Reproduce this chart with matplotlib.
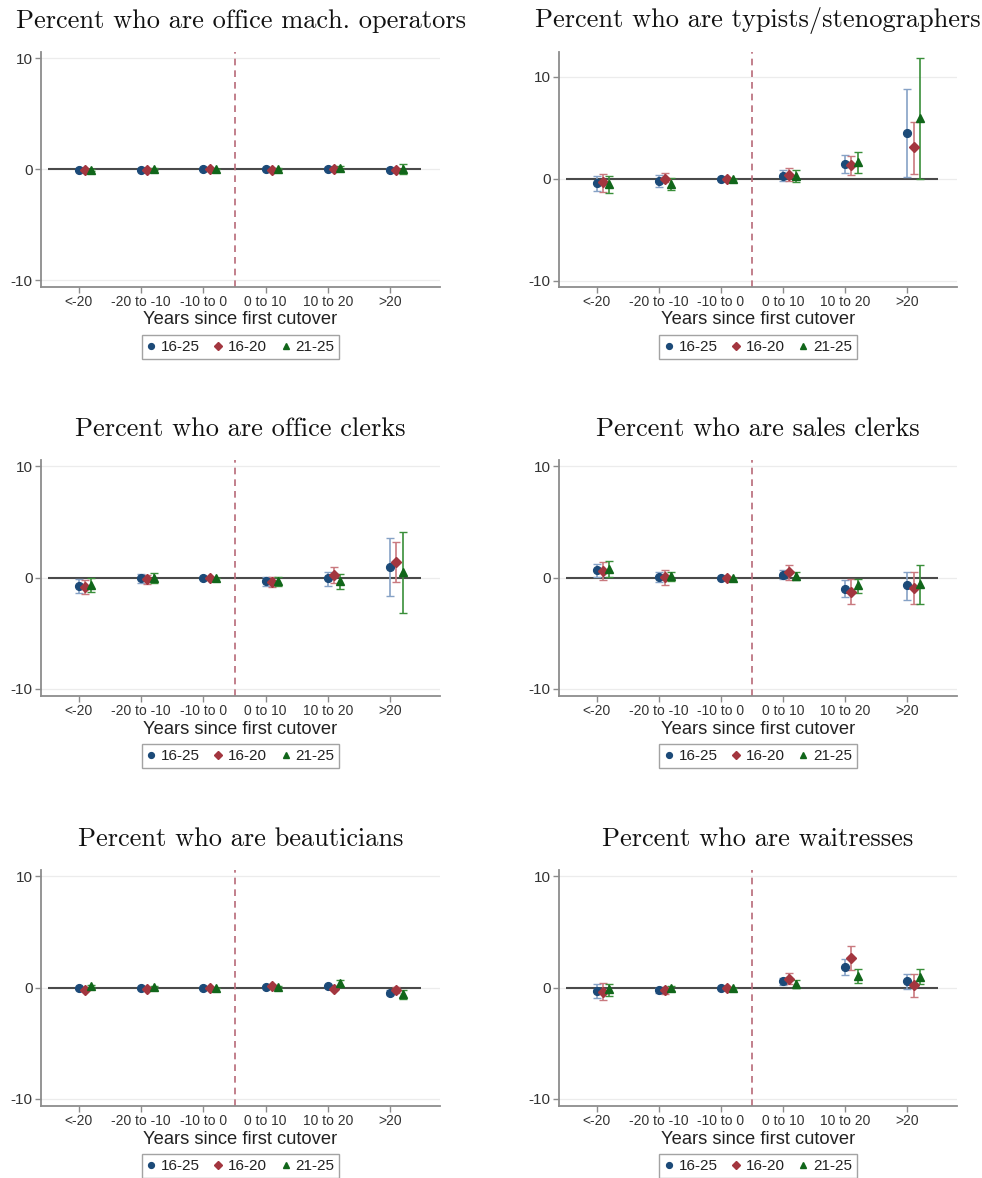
import matplotlib
matplotlib.use("Agg")
import matplotlib.pyplot as plt
from matplotlib.lines import Line2D
import numpy as np

# ---------------------------------------------------------------------------
# Event-study estimates by age group (percentage points) with 95% CIs.
# Each list holds one value per period bin; rows are 16-25, 16-20, 21-25.
# ---------------------------------------------------------------------------
periods = ["<-20", "-20 to -10", "-10 to 0", "0 to 10", "10 to 20", ">20"]
groups = ["16-25", "16-20", "21-25"]

titles = [
    "Percent who are office mach. operators",
    "Percent who are typists/stenographers",
    "Percent who are office clerks",
    "Percent who are sales clerks",
    "Percent who are beauticians",
    "Percent who are waitresses",
]

machops_est = [[-0.05, -0.03, 0.0, 0.0, 0.06, -0.03],
               [-0.08, -0.06, 0.0, -0.05, 0.03, -0.09],
               [-0.04, 0.02, 0.0, 0.04, 0.15, 0.06]]
machops_lo = [[-0.15, -0.12, 0.0, -0.1, -0.04, -0.15],
              [-0.18, -0.15, 0.0, -0.15, -0.07, -0.2],
              [-0.14, -0.08, 0.0, -0.06, 0.02, -0.45]]
machops_hi = [[0.05, 0.06, 0.0, 0.1, 0.16, 0.09],
              [0.02, 0.03, 0.0, 0.05, 0.13, 0.02],
              [0.06, 0.12, 0.0, 0.14, 0.28, 0.5]]

typists_est = [[-0.42, -0.23, 0.0, 0.23, 1.47, 4.48],
               [-0.33, -0.05, 0.0, 0.33, 1.31, 3.07],
               [-0.5, -0.5, 0.0, 0.23, 1.63, 5.95]]
typists_lo = [[-1.2, -0.8, 0.0, -0.26, 0.56, 0.16],
              [-1.3, -0.33, 0.0, -0.26, 0.33, 0.5],
              [-1.4, -1.08, 0.0, -0.33, 0.56, 0.0]]
typists_hi = [[0.26, 0.33, 0.0, 0.82, 2.29, 8.76],
              [0.5, 0.55, 0.0, 1.05, 2.19, 5.56],
              [0.26, 0.07, 0.0, 0.88, 2.6, 11.86]]

clerks_est = [[-0.75, -0.06, 0.0, -0.3, -0.06, 0.93],
              [-0.81, -0.15, 0.0, -0.36, 0.24, 1.44],
              [-0.66, 0.0, 0.0, -0.3, -0.3, 0.54]]
clerks_lo = [[-1.35, -0.45, 0.0, -0.72, -0.72, -1.65],
             [-1.5, -0.57, 0.0, -0.81, -0.51, -0.36],
             [-1.32, -0.51, 0.0, -0.72, -1.05, -3.15]]
clerks_hi = [[-0.15, 0.33, 0.0, 0.09, 0.54, 3.6],
             [-0.21, 0.24, 0.0, 0.09, 0.99, 3.24],
             [-0.06, 0.45, 0.0, 0.09, 0.33, 4.14]]

sales_est = [[0.66, 0.06, 0.0, 0.27, -0.99, -0.69],
             [0.57, 0.06, 0.0, 0.48, -1.29, -0.9],
             [0.81, 0.12, 0.0, 0.15, -0.69, -0.54]]
sales_lo = [[0.06, -0.39, 0.0, -0.09, -1.74, -2.04],
            [-0.24, -0.63, 0.0, -0.24, -2.4, -2.34],
            [0.06, -0.3, 0.0, -0.24, -1.38, -2.34]]
sales_hi = [[1.26, 0.51, 0.0, 0.66, -0.24, 0.51],
            [1.41, 0.66, 0.0, 1.11, -0.09, 0.51],
            [1.47, 0.51, 0.0, 0.51, -0.09, 1.11]]

beaut_est = [[0.0, -0.06, 0.0, 0.06, 0.18, -0.45],
             [-0.2, -0.1, 0.0, 0.15, -0.12, -0.24],
             [0.15, 0.03, 0.0, 0.06, 0.39, -0.6]]
beaut_lo = [[-0.1, -0.14, 0.0, -0.02, 0.08, -0.7],
            [-0.3, -0.2, 0.0, 0.05, -0.22, -0.5],
            [0.05, -0.05, 0.0, -0.02, 0.03, -1.0]]
beaut_hi = [[0.1, 0.02, 0.0, 0.14, 0.28, -0.2],
            [-0.1, 0.0, 0.0, 0.25, -0.02, 0.05],
            [0.25, 0.11, 0.0, 0.14, 0.69, -0.2]]

waitr_est = [[-0.3, -0.21, 0.0, 0.6, 1.86, 0.6],
             [-0.39, -0.24, 0.0, 0.81, 2.64, 0.21],
             [-0.15, -0.06, 0.0, 0.3, 1.05, 0.96]]
waitr_lo = [[-0.9, -0.45, 0.0, 0.24, 1.11, -0.15],
            [-1.14, -0.6, 0.0, 0.3, 1.56, -0.81],
            [-0.75, -0.3, 0.0, 0.0, 0.45, 0.3]]
waitr_hi = [[0.3, 0.0, 0.0, 0.9, 2.55, 1.2],
            [0.39, 0.06, 0.0, 1.35, 3.75, 1.2],
            [0.36, 0.15, 0.0, 0.66, 1.65, 1.65]]

panels = [
    (machops_est, machops_lo, machops_hi),
    (typists_est, typists_lo, typists_hi),
    (clerks_est, clerks_lo, clerks_hi),
    (sales_est, sales_lo, sales_hi),
    (beaut_est, beaut_lo, beaut_hi),
    (waitr_est, waitr_lo, waitr_hi),
]

# ---------------------------------------------------------------------------
# Styling
# ---------------------------------------------------------------------------
W, H = 982, 1178
SANS = ["Liberation Sans", "DejaVu Sans"]
SERIF = ["cmr10", "DejaVu Serif"]
plt.rcParams["axes.formatter.use_mathtext"] = True

marker_colors = ["#1c4a78", "#a3363f", "#11661a"]
ci_colors = ["#86a2c6", "#c9797f", "#3a8f3a"]
markers = ["o", "D", "^"]
msizes = [5.6, 5.0, 5.8]
offsets = [0.0, 0.1, 0.2]

col_x = [(41, 440), (559, 957)]
row_y = [(52, 287), (460, 696), (870, 1106)]


def fx(px):
    return px / W


def fy(py):
    return 1 - py / H


fig = plt.figure(figsize=(W / 100, H / 100), dpi=100)
fig.patch.set_facecolor("white")

x = np.arange(len(periods))

for i, (est, lo, hi) in enumerate(panels):
    r, c = divmod(i, 2)
    x0, x1 = col_x[c]
    t, b = row_y[r]
    ax = fig.add_axes([fx(x0), fy(b), fx(x1 - x0), (b - t) / H])

    all_lo = np.min(np.array(lo))
    all_hi = np.max(np.array(hi))
    ax.set_ylim(min(-10, all_lo) - 0.63, max(10, all_hi) + 0.57)
    ax.set_xlim(-0.61, 5.8)

    # faint horizontal grid at the labelled values
    for yv in (-10, 0, 10):
        ax.axhline(yv, color="#ececec", lw=0.9, zorder=0)

    ax.hlines(0, -0.5, 5.5, color="#4a4a4a", lw=1.5, zorder=1)
    ax.axvline(2.5, color="#b86a78", lw=1.2, ls=(0, (4, 3)), zorder=1)

    for g in range(3):
        xs = x + offsets[g]
        e = np.array(est[g])
        yerr = np.vstack([e - np.array(lo[g]), np.array(hi[g]) - e])
        ax.errorbar(xs, e, yerr=yerr, fmt="none", ecolor=ci_colors[g],
                    elinewidth=1.2, capsize=3.2, capthick=1.0, zorder=2)
        ax.plot(xs, e, ls="none", marker=markers[g], ms=msizes[g],
                color=marker_colors[g], mec=marker_colors[g], zorder=3)

    for side in ("top", "right"):
        ax.spines[side].set_visible(False)
    for side in ("left", "bottom"):
        ax.spines[side].set_color("#8c8c8c")
        ax.spines[side].set_linewidth(1.3)

    ax.set_yticks([-10, 0, 10])
    ax.set_yticklabels(["-10", "0", "10"], fontfamily=SANS, fontsize=11,
                       color="#333333")
    ax.set_xticks(x)
    ax.set_xticklabels(periods, fontfamily=SANS, fontsize=10, color="#333333")
    ax.tick_params(axis="both", colors="#8c8c8c", length=4, width=1.0,
                   labelcolor="#333333")
    ax.tick_params(axis="y", pad=2)
    ax.tick_params(axis="x", pad=2)

    cx = (x0 + x1) / 2
    fig.text(fx(cx), fy(t - 31), titles[i], ha="center", va="center",
             fontfamily=SERIF, fontsize=19, color="#111111")
    fig.text(fx(cx), fy(b + 33), "Years since first cutover", ha="center",
             va="center", fontfamily=SANS, fontsize=13.2, color="#222222")

    handles = [Line2D([], [], ls="none", marker=markers[g], ms=msizes[g] * 0.75,
                      color=marker_colors[g]) for g in range(3)]
    leg = ax.legend(handles, groups, loc="center", ncol=3,
                    bbox_to_anchor=(fx(cx), fy(b + 60)),
                    bbox_transform=fig.transFigure, frameon=True,
                    fancybox=False, handlelength=0.6, handletextpad=0.35,
                    columnspacing=0.9, borderpad=0.3, borderaxespad=0,
                    prop={"family": SANS, "size": 11})
    leg.get_frame().set_edgecolor("#8c8c8c")
    leg.get_frame().set_linewidth(1.0)
    for txt in leg.get_texts():
        txt.set_color("#222222")

fig.savefig("out.png", dpi=100, facecolor="white")
